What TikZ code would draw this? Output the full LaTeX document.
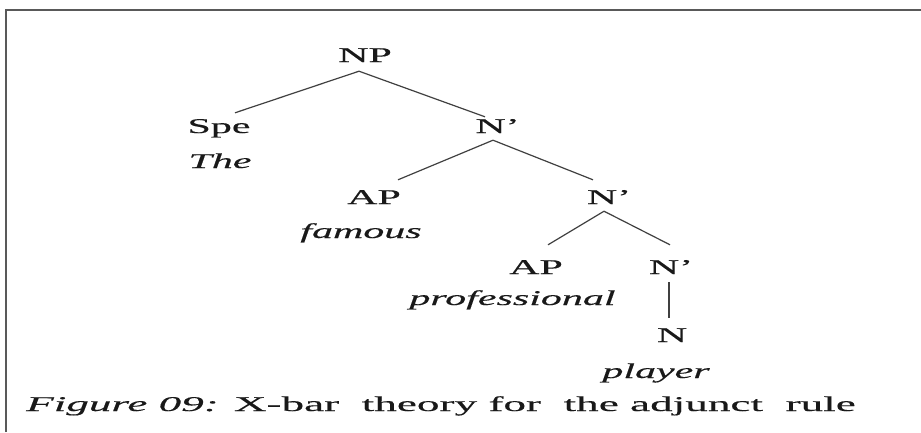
\documentclass[tikz,border=0pt]{standalone}
\usepackage{fontspec}
\setmainfont[FakeStretch=2.0,FakeBold=0.4]{Liberation Serif}
\newfontfamily\capfont[FakeStretch=2.15,FakeBold=0.4]{Liberation Serif}
\usetikzlibrary{calc}

\begin{document}
\begin{tikzpicture}[
  x=1pt, y=-1pt,
  cat/.style={
    inner sep=0pt,
    anchor=base,
    text height=14pt,
    text depth=0pt,
    font=\fontsize{21}{24}\selectfont,
    text=black!90
  },
  word/.style={
    inner sep=0pt,
    anchor=base,
    font=\fontsize{21}{24}\selectfont\itshape,
    text=black!90
  },
  edge/.style={line width=1.2pt, black!75},
  frame/.style={line width=2.2pt, black!65}
]
\useasboundingbox[fill=white] (0,0) rectangle (921,432);
\draw[frame] (6,432) -- (6,10) -- (921,10);
% categories
\node[cat] (np)  at (365, 62)  {NP};
\node[cat] (spe) at (219, 133) {Spe};
\node[cat] (n1)  at (497.5, 133) {N'};
\node[cat] (ap1) at (374, 204) {AP};
\node[cat] (n2)  at (609, 204) {N'};
\node[cat] (ap2) at (536, 274) {AP};
\node[cat] (n3)  at (671, 274) {N'};
\node[cat] (nn)  at (672, 342) {N};
% words
\node[word] (the)  at (220, 168)   {The};
\node[word] (fam)  at (361, 238)   {famous};
\node[word] (prof) at (512.5, 305) {professional};
\node[word] (play) at (656, 378)   {player};
% branches
\draw[edge] ($(np.south)+(-6,9)$) -- ($(spe.north)+(16,-6)$);
\draw[edge] ($(np.south)+(-6,9)$) -- ($(n1.north)+(-12.5,-2)$);
\draw[edge] ($(n1.south)+(-4.5,7)$) -- ($(ap1.north)+(24,-10)$);
\draw[edge] ($(n1.south)+(-4.5,7)$) -- ($(n2.north)+(-16,-10)$);
\draw[edge] ($(n2.south)+(-5,7)$) -- ($(ap2.north)+(12,-15)$);
\draw[edge] ($(n2.south)+(-5,7)$) -- ($(n3.north)+(-1,-15)$);
\draw[edge] ($(n3.south)+(-2,8)$) -- ($(nn.north)+(-3,-10)$);
\node[inner sep=0pt, anchor=base west, font=\capfont\fontsize{21}{24}\selectfont, text=black!90] (caption) at (26, 411)
  {\textit{Figure 09:} X-bar~ theory for~ the adjunct~ rule};
\end{tikzpicture}
\end{document}
